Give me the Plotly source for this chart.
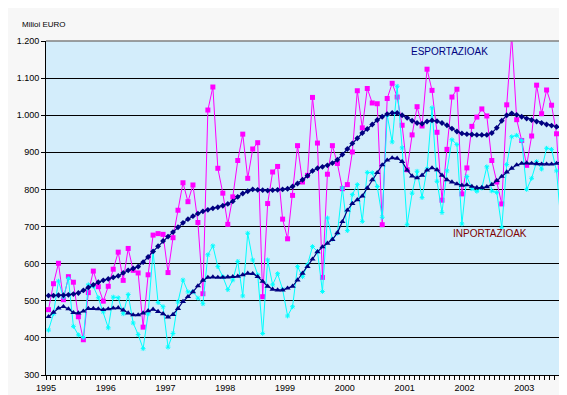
import plotly.graph_objects as go

# Monthly data, Jan 1995 - Sep 2003 (million EUR)
exports = [476, 546, 601, 503, 565, 550, 457, 395, 522, 580, 538, 499,
           539, 585, 631, 555, 641, 582, 575, 429, 570, 677, 681, 679,
           576, 670, 744, 818, 767, 812, 711, 519, 1014, 1076, 857, 790,
           706, 780, 878, 949, 830, 909, 926, 511, 762, 847, 862, 720,
           667, 784, 918, 820, 838, 1048, 925, 563, 841, 918, 870, 802,
           813, 901, 1066, 966, 1072, 1033, 1031, 705, 1045, 1086, 1049, 973,
           853, 947, 1023, 971, 1124, 1067, 954, 771, 908, 1049, 1070, 788,
           858, 970, 995, 1017, 998, 878, 820, 761, 1028, 1215, 988, 932,
           865, 944, 1081, 1004, 1068, 1027, 950, 708, 963]

imports = [421, 465, 553, 510, 560, 431, 408, 401, 543, 539, 508, 470,
           427, 510, 508, 465, 517, 440, 409, 371, 465, 633, 495, 484,
           375, 412, 497, 556, 524, 524, 507, 492, 624, 648, 592, 565,
           530, 556, 606, 513, 682, 610, 570, 412, 610, 543, 573, 531,
           459, 484, 592, 565, 597, 646, 633, 525, 723, 666, 682, 804,
           689, 786, 813, 714, 846, 845, 808, 725, 1000, 928, 1078, 912,
           705, 790, 849, 778, 855, 1020, 822, 738, 850, 934, 921, 707,
           835, 802, 795, 804, 861, 796, 792, 698, 867, 942, 946, 932,
           800, 830, 875, 855, 911, 908, 850, 691, 957]

exports_trend = [514, 514, 515, 515, 516, 518, 521, 528, 536, 543, 550, 555,
                 559, 563, 567, 575, 582, 587, 592, 604, 618, 633, 647, 661,
                 673, 685, 698, 710, 720, 728, 735, 741, 745, 749, 752, 756,
                 761, 768, 780, 789, 795, 800, 799, 798, 797, 798, 799, 800,
                 802, 808, 816, 826, 837, 850, 857, 861, 865, 871, 880, 894,
                 909, 924, 938, 952, 963, 975, 987, 996, 1003, 1006, 1006, 1000,
                 993, 985, 979, 977, 983, 986, 984, 979, 973, 964, 956, 951,
                 949, 948, 947, 947, 947, 952, 966, 985, 1000, 1005, 1001, 996,
                 991, 987, 983, 979, 975, 972, 969, 966, 962]

imports_trend = [457, 469, 480, 484, 478, 468, 467, 472, 479, 479, 478, 476,
                 478, 480, 481, 475, 467, 462, 462, 467, 473, 477, 471, 465,
                 456, 463, 479, 498, 511, 524, 540, 555, 563, 564, 563, 563,
                 564, 565, 566, 570, 574, 573, 565, 552, 539, 531, 529, 529,
                 534, 539, 556, 574, 592, 612, 632, 645, 655, 665, 683, 713,
                 744, 762, 772, 782, 804, 826, 845, 866, 879, 885, 884, 875,
                 852, 836, 831, 838, 852, 858, 853, 838, 826, 820, 815, 811,
                 812, 808, 805, 805, 807, 813, 824, 835, 847, 857, 866, 870,
                 871, 870, 869, 868, 868, 868, 870, 876, 887]

years = ["1995", "1996", "1997", "1998", "1999", "2000", "2001", "2002", "2003"]
y_ticks = [300, 400, 500, 600, 700, 800, 900, 1000, 1100, 1200]
y_labels = ["300", "400", "500", "600", "700", "800", "900", "1.000", "1.100", "1.200"]

months = list(range(len(exports)))
n = len(exports)

x_tickvals = [k - 0.5 for k in range(n + 1)]
x_ticktext = [years[k // 12] if (k % 12 == 0 and k // 12 < len(years)) else "" for k in range(n + 1)]

NAVY = "#000080"
FONT = "Liberation Sans, Arial, sans-serif"

fig = go.Figure()
fig.add_trace(go.Scatter(x=months, y=exports, mode="lines+markers",
                         line=dict(color="#ff00ff", width=1),
                         marker=dict(symbol="square", size=5, color="#ff00ff"),
                         name="Esportazioak"))
fig.add_trace(go.Scatter(x=months, y=imports, mode="lines+markers",
                         line=dict(color="#00ffff", width=1),
                         marker=dict(symbol="asterisk-open", size=4,
                                     line=dict(color="#00ffff", width=1)),
                         name="Inportazioak"))
fig.add_trace(go.Scatter(x=months, y=exports_trend, mode="lines+markers",
                         line=dict(color=NAVY, width=1.2),
                         marker=dict(symbol="diamond", size=4.5, color=NAVY),
                         name="Esportazioak joera"))
fig.add_trace(go.Scatter(x=months, y=imports_trend, mode="lines+markers",
                         line=dict(color=NAVY, width=1.2),
                         marker=dict(symbol="triangle-up", size=5.5, color=NAVY),
                         name="Inportazioak joera"))

fig.update_layout(
    width=567, height=395,
    margin=dict(l=38, r=6, t=33, b=28),
    paper_bgcolor="#f7f7f7",
    plot_bgcolor="#d3edfb",
    showlegend=False,
    font=dict(family=FONT, size=9, color="black"),
    xaxis=dict(range=[-0.5, n - 0.5], tickmode="array",
               tickvals=x_tickvals, ticktext=x_ticktext,
               ticks="outside", ticklen=4, tickcolor="black", tickwidth=1,
               showgrid=False, zeroline=False,
               showline=True, linecolor="black", linewidth=1,
               tickfont=dict(family=FONT, size=9, color="black")),
    yaxis=dict(range=[300, 1200], tickmode="array",
               tickvals=y_ticks, ticktext=y_labels,
               ticks="outside", ticklen=4, tickcolor="black", tickwidth=1,
               showgrid=True, gridcolor="black", gridwidth=1,
               zeroline=False,
               showline=True, linecolor="black", linewidth=1,
               tickfont=dict(family=FONT, size=9, color="black")),
    shapes=[
        dict(type="line", xref="paper", yref="paper", x0=0, x1=1, y0=1, y1=1,
             line=dict(color="#808080", width=1.5), layer="above"),
        dict(type="line", xref="paper", yref="paper", x0=1, x1=1, y0=0, y1=1,
             line=dict(color="#808080", width=1.5), layer="above"),
    ],
    annotations=[
        dict(text="Milioi EURO", xref="paper", yref="paper",
             x=-0.05, y=1.048, xanchor="left", yanchor="middle",
             showarrow=False, font=dict(family=FONT, size=8, color="black")),
        dict(text="ESPORTAZIOAK", xref="x", yref="y", x=80.6, y=1171,
             xanchor="center", yanchor="middle", showarrow=False,
             font=dict(family=FONT, size=10, color=NAVY)),
        dict(text="INPORTAZIOAK", xref="x", yref="y", x=88.7, y=681,
             xanchor="center", yanchor="middle", showarrow=False,
             font=dict(family=FONT, size=10, color="#800000")),
    ],
)

fig.write_html("out.html", config={"displayModeBar": False})
